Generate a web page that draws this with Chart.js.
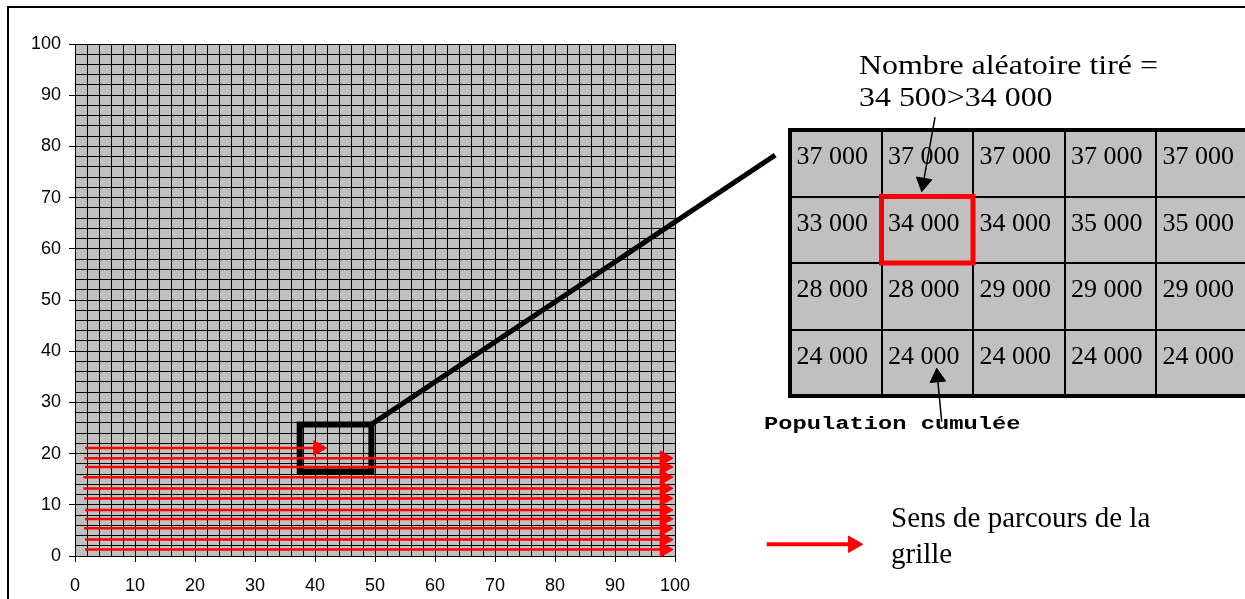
<!DOCTYPE html>
<html><head><meta charset="utf-8">
<script src="https://cdn.jsdelivr.net/npm/chart.js@4"></script>
<style>
html,body{margin:0;padding:0;background:#fff;width:1245px;height:599px;overflow:hidden;position:relative;}
canvas{position:absolute;left:0;top:0;}
#legend{left:740px;top:509px;}
#frame{position:absolute;left:7px;top:6px;width:1400px;height:800px;border:2px solid #000;}
.t{position:absolute;white-space:nowrap;color:#000;transform-origin:0 0;}
#title{left:859px;top:49px;font:28px/32px 'Liberation Serif','Times New Roman',serif;transform:scaleX(1.14);}
#pop{left:764px;top:414px;font:bold 19px/20px 'Liberation Mono','Courier New',monospace;transform:scaleX(1.25);}
#sens{left:891px;top:499px;font:29px/36px 'Liberation Serif','Times New Roman',serif;}
</style></head><body>
<div id="frame"></div>
<canvas id="grid" width="1245" height="599"></canvas>
<canvas id="table" width="1260" height="599"></canvas>
<canvas id="legend" width="150" height="70"></canvas>
<div class="t" id="title">Nombre aléatoire tiré =<br>34 500&gt;34 000</div>
<div class="t" id="pop">Population cumulée</div>
<div class="t" id="sens">Sens de parcours de la<br>grille</div>
<script>
// ---- data (grid chart) ----
const axisMin = 0, axisMax = 100, gridStep = 2, labelStep = 10;
const redLineY     = [19.1, 17.4, 15.4, 13.2, 11.25, 9.0, 7.25, 5.4, 3.2, 1.25];
const redLineStart = [1.55, 1.67, 1.4, 1.4, 1.55, 1.67, 1.67, 1.5, 1.67, 1.67];
const redLineEnd   = 98.25;
const firstLineY = 21.1, firstLineStart = 1.67, firstLineEnd = 40.5;
const zoomBoxX = [37.45, 49.4];
const zoomBoxY = [16.5, 25.7];
const connectorX = [49.4, 116.7];
const connectorY = [25.7, 78.3];

// ---- data (legend sample arrow, in its own 0..1 box) ----
const legendArrowX = [0.061, 0.847];
const legendArrowY = 0.5;

// ---- data (inset table) ----
const tableRows = [
  [37000, 37000, 37000, 37000, 37000],
  [33000, 34000, 34000, 35000, 35000],
  [28000, 28000, 29000, 29000, 29000],
  [24000, 24000, 24000, 24000, 24000]
];
const highlightCell = {col: 1, row: 1};
const drawnArrowX = [1.585, 1.457];
const drawnArrowY = [4.195, 3.206];
const cumulArrowX = [1.658, 1.612];
const cumulArrowY = [-0.386, 0.281];

const RED = '#ff0000', GREY = '#c0c0c0';

const bgPlugin = {
  id: 'bg',
  beforeDraw(chart, args, opts) {
    if (!opts.color) return;
    const {ctx, chartArea: a} = chart;
    ctx.save(); ctx.fillStyle = opts.color;
    ctx.fillRect(a.left, a.top, a.right - a.left, a.bottom - a.top);
    ctx.restore();
  }
};

function arrowDataset(xs, ys, color, width, radius, rotation) {
  return {
    data: xs.map((x, i) => ({x, y: ys[i]})),
    showLine: true, borderColor: color, backgroundColor: color, borderWidth: width,
    pointRadius: [0, radius], pointStyle: 'triangle', pointRotation: [0, rotation],
    pointBorderWidth: 1, pointBorderColor: color, pointBackgroundColor: color, clip: false
  };
}

const gridDatasets = [];
gridDatasets.push(arrowDataset([firstLineStart, firstLineEnd], [firstLineY, firstLineY], RED, 2.5, 8.5, 90));
redLineY.forEach((y, i) => gridDatasets.push(arrowDataset([redLineStart[i], redLineEnd], [y, y], RED, 2.5, 8.5, 90)));
gridDatasets.push({
  data: [
    {x: (zoomBoxX[0] + zoomBoxX[1]) / 2, y: zoomBoxY[0]}, {x: zoomBoxX[1], y: zoomBoxY[0]},
    {x: zoomBoxX[1], y: zoomBoxY[1]}, {x: zoomBoxX[0], y: zoomBoxY[1]},
    {x: zoomBoxX[0], y: zoomBoxY[0]}, {x: (zoomBoxX[0] + zoomBoxX[1]) / 2, y: zoomBoxY[0]}
  ],
  showLine: true, borderColor: '#000', borderWidth: 6, pointRadius: 0, borderJoinStyle: 'miter', clip: false
});
gridDatasets.push({
  data: connectorX.map((x, i) => ({x, y: connectorY[i]})),
  showLine: true, borderColor: '#000', borderWidth: 5, pointRadius: 0, clip: false
});

const tickFont = {family: "'Liberation Sans', Arial, sans-serif", size: 18};
function axis(fitKey, fitVal, pad) {
  return {
    type: 'linear', min: axisMin, max: axisMax,
    ticks: {
      stepSize: gridStep, autoSkip: false, maxRotation: 0, minRotation: 0, maxTicksLimit: 1000,
      callback: v => (v % labelStep === 0 ? String(v) : ''),
      color: '#000', font: tickFont, padding: pad
    },
    grid: {
      color: '#000', lineWidth: 1, tickLength: 6,
      tickColor: c => (c.tick && c.tick.value % labelStep === 0 ? '#000' : 'rgba(0,0,0,0)')
    },
    border: {color: '#000', width: 1},
    afterFit: s => { s[fitKey] = fitVal; }
  };
}

const baseOpts = {
  responsive: false, animation: false, devicePixelRatio: 1, events: []
};

new Chart(document.getElementById('grid'), {
  type: 'scatter',
  data: {datasets: gridDatasets},
  plugins: [bgPlugin],
  options: Object.assign({}, baseOpts, {
    layout: {padding: {left: 0, top: 44, right: 570, bottom: 0}},
    plugins: {legend: {display: false}, tooltip: {enabled: false}, bg: {color: GREY}},
    scales: {x: axis('height', 43, 13), y: axis('width', 75, 8)}
  })
});

// ---- inset table chart ----
const nCols = tableRows[0].length, nRows = tableRows.length;
const fmt = n => String(n).replace(/\B(?=(\d{3})+(?!\d))/g, ' ');
const cellTextPlugin = {
  id: 'cellText',
  beforeDatasetsDraw(chart) {
    const {ctx, scales: {x, y}} = chart;
    ctx.save();
    ctx.fillStyle = '#000';
    ctx.font = "26px 'Liberation Serif', 'Times New Roman', serif";
    ctx.textAlign = 'left'; ctx.textBaseline = 'alphabetic';
    tableRows.forEach((row, r) => row.forEach((v, c) => {
      ctx.fillText(fmt(v), x.getPixelForValue(c) + 6.5, y.getPixelForValue(nRows - r) + 34);
    }));
    ctx.restore();
  }
};
const hx0 = highlightCell.col, hx1 = highlightCell.col + 1;
const hy1 = nRows - highlightCell.row, hy0 = hy1 - 1;
const tableAxis = (max, fitKey) => ({
  type: 'linear', min: 0, max: max,
  ticks: {display: false, stepSize: 1},
  grid: {color: '#000', drawTicks: false, lineWidth: c => (c.tick && (c.tick.value === max) ? 4 : 2)},
  border: {color: '#000', width: 4},
  afterFit: s => { s[fitKey] = 0; }
});
new Chart(document.getElementById('table'), {
  type: 'scatter',
  data: {datasets: [
    {
      data: [
        {x: (hx0 + hx1) / 2, y: hy0}, {x: hx1, y: hy0}, {x: hx1, y: hy1},
        {x: hx0, y: hy1}, {x: hx0, y: hy0}, {x: (hx0 + hx1) / 2, y: hy0}
      ],
      showLine: true, borderColor: RED, borderWidth: 5, pointRadius: 0, borderJoinStyle: 'miter', clip: false
    },
    arrowDataset(drawnArrowX, drawnArrowY, '#000', 1.5, 9, 190),
    arrowDataset(cumulArrowX, cumulArrowY, '#000', 1.5, 9, 354.7)
  ]},
  plugins: [bgPlugin, cellTextPlugin],
  options: Object.assign({}, baseOpts, {
    layout: {padding: {left: 790, top: 130, right: 12.5, bottom: 203}},
    plugins: {legend: {display: false}, tooltip: {enabled: false}, bg: {color: GREY}},
    scales: {x: tableAxis(nCols, 'height'), y: tableAxis(nRows, 'width')}
  })
});

// ---- legend sample arrow (chart area 760..870 x 520..570) ----
new Chart(document.getElementById('legend'), {
  type: 'scatter',
  data: {datasets: [arrowDataset(legendArrowX, [legendArrowY, legendArrowY], RED, 4, 9.5, 90)]},
  options: Object.assign({}, baseOpts, {
    layout: {padding: {left: 20, right: 20, top: 11, bottom: 9}},
    plugins: {legend: {display: false}, tooltip: {enabled: false}},
    scales: {
      x: {type: 'linear', min: 0, max: 1, display: false},
      y: {type: 'linear', min: 0, max: 1, display: false}
    }
  })
});
</script>
</body></html>
